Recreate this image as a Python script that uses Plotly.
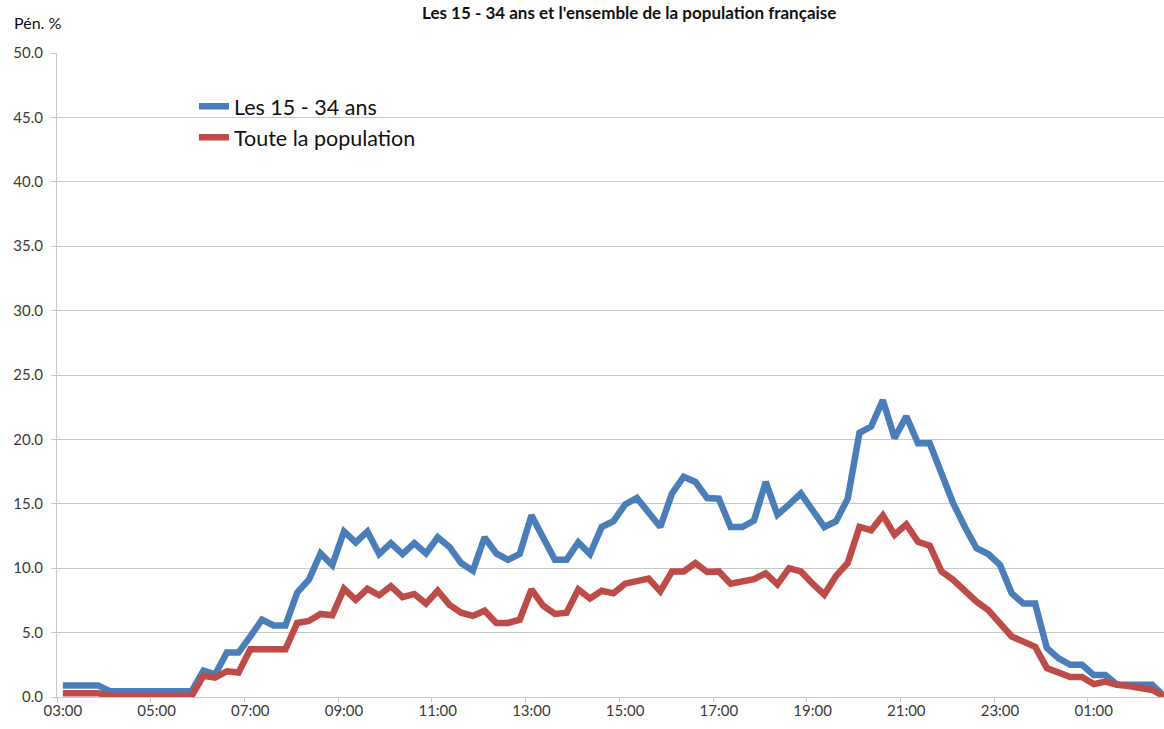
import plotly.graph_objects as go

TITLE_TEXT = "Les 15 - 34 ans et l'ensemble de la population française"
Y_LABEL = "Pén. %"
SERIES_NAMES = ["Les 15 - 34 ans", "Toute la population"]
COLORS = ["#4A7EBB", "#BE4B48"]

# quarter-hour slots starting at 03:00 (last one is cut by the right edge)
TICK_LABELS = ["03:00", "05:00", "07:00", "09:00", "11:00", "13:00",
               "15:00", "17:00", "19:00", "21:00", "23:00", "01:00"]

JEUNES = [
    0.9, 0.9, 0.9, 0.9, 0.45, 0.45, 0.45, 0.45, 0.45, 0.45, 0.45, 0.45,
    2.05, 1.75, 3.45, 3.45, 4.7, 6.0, 5.55, 5.55, 8.1, 9.1, 11.15, 10.25,
    12.85, 12.0, 12.85, 11.1, 11.95, 11.1, 11.95, 11.15, 12.4, 11.65, 10.4, 9.8,
    12.4, 11.15, 10.65, 11.1, 14.1, 12.4, 10.65, 10.65, 12.0, 11.1, 13.2, 13.65,
    14.95, 15.45, 14.4, 13.2, 15.8, 17.1, 16.7, 15.45, 15.4, 13.2, 13.2, 13.7,
    16.7, 14.15, 14.95, 15.8, 14.5, 13.2, 13.65, 15.4, 20.5, 21.0, 23.05, 20.1,
    21.8, 19.7, 19.7, 17.35, 15.05, 13.2, 11.55, 11.1, 10.25, 8.05, 7.25, 7.25,
    3.8, 3.0, 2.5, 2.5, 1.7, 1.7, 0.95, 0.95, 0.95, 0.95, 0.05,
]

TOUS = [
    0.3, 0.3, 0.3, 0.3, 0.1, 0.1, 0.1, 0.1, 0.1, 0.1, 0.1, 0.1,
    1.65, 1.5, 2.0, 1.9, 3.7, 3.7, 3.8, 3.7, 5.75, 5.9, 6.45, 6.35,
    8.4, 7.55, 8.4, 7.9, 8.6, 7.75, 8.0, 7.25, 8.25, 7.15, 6.55, 6.3,
    6.7, 5.75, 5.75, 6.0, 8.35, 7.1, 6.45, 6.55, 8.35, 7.65, 8.25, 8.05,
    8.8, 8.95, 9.2, 8.2, 9.75, 9.75, 10.4, 9.7, 9.75, 8.8, 8.95, 9.15,
    9.6, 8.75, 10.0, 9.75, 8.8, 7.95, 9.4, 10.4, 13.2, 12.95, 14.1, 12.6,
    13.4, 12.05, 11.75, 9.75, 9.1, 8.2, 7.4, 6.75, 5.7, 4.7, 4.3, 3.9,
    2.25, 1.9, 1.55, 1.55, 1.0, 1.2, 0.95, 0.85, 0.65, 0.55, 0.05,
]

FONT = "Lato, 'Open Sans', sans-serif"
GRID = "#C8C8C8"
TEXT = "#3A3A3A"

x = list(range(len(JEUNES)))

fig = go.Figure()
for name, values, color in zip(SERIES_NAMES, [JEUNES, TOUS], COLORS):
    fig.add_trace(go.Scatter(x=x, y=values, mode="lines", name=name,
                             line=dict(color=color, width=6.5)))

fig.update_layout(
    width=1164, height=729,
    paper_bgcolor="white", plot_bgcolor="white",
    font=dict(family=FONT, color=TEXT, size=15),
    margin=dict(l=57, r=0, t=53, b=32),
    showlegend=True,
    legend=dict(x=0.1237, y=0.949, xanchor="left", yanchor="top",
                bgcolor="rgba(0,0,0,0)", font=dict(size=21.5, color="#111111"),
                tracegroupgap=0, itemwidth=30),
)
fig.update_xaxes(
    range=[-0.5, 94.0],
    tickmode="array", tickvals=[i * 8 for i in range(len(TICK_LABELS))],
    ticktext=TICK_LABELS, ticks="", showgrid=False, zeroline=False,
    showline=True, linecolor=GRID, linewidth=1,
    minor=dict(tickmode="array", tickvals=[i * 8 - 0.5 for i in range(len(TICK_LABELS))],
               ticks="outside", ticklen=5, tickcolor=GRID, showgrid=False),
    tickfont=dict(size=15),
)
fig.update_yaxes(
    range=[0, 50], dtick=5, tickformat=".1f",
    showgrid=True, gridcolor=GRID, gridwidth=1, zeroline=False,
    showline=True, linecolor=GRID, linewidth=1,
    ticks="outside", ticklen=5, tickcolor=GRID, ticklabelstandoff=5,
    tickfont=dict(size=15),
)

fig.add_annotation(text=Y_LABEL, xref="paper", yref="paper", x=-0.041, y=1.048,
                   xanchor="left", yanchor="middle", showarrow=False,
                   font=dict(size=16, color="#111111"))
# the title sits right at the top edge, as in the source picture
fig.add_annotation(text="<b>" + TITLE_TEXT + "</b>", xref="paper", yref="paper",
                   x=0.517, y=1.082, xanchor="center", yanchor="top", showarrow=False,
                   font=dict(size=17, color="#111111"))

fig.write_html("out.html", config={"displayModeBar": False},
               post_script="document.body.style.margin='0';")
